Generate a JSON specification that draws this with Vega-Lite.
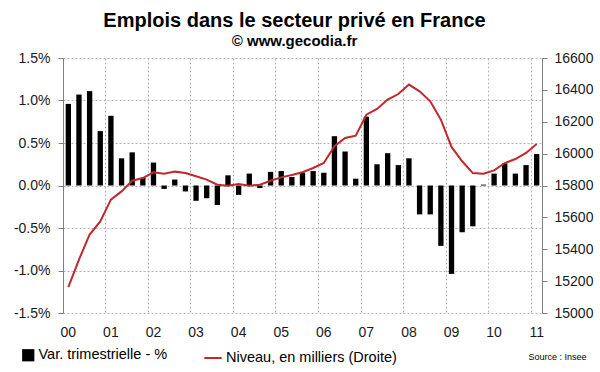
{
  "$schema": "https://vega.github.io/schema/vega-lite/v6.json",
  "autosize": "none",
  "width": 479,
  "height": 255,
  "padding": {"left": 63, "top": 58, "right": 58, "bottom": 59},
  "background": "white",
  "config": {
    "font": "Liberation Sans",
    "view": {"stroke": null},
    "axis": {"labelFont": "Liberation Sans", "labelColor": "#1a1a1a", "labelFontSize": 14}
  },
  "title": {
    "text": "Emplois dans le secteur privé en France",
    "subtitle": "© www.gecodia.fr",
    "font": "Liberation Sans",
    "subtitleFont": "Liberation Sans",
    "fontSize": 20,
    "fontWeight": "bold",
    "subtitleFontSize": 15,
    "subtitleFontWeight": "bold",
    "subtitleColor": "black",
    "color": "black",
    "anchor": "middle",
    "dx": -8,
    "offset": 2,
    "subtitlePadding": 3
  },
  "data": {
    "values": [
      {"q": "2000T1", "v": 0.96, "n": 15163},
      {"q": "2000T2", "v": 1.07, "n": 15335},
      {"q": "2000T3", "v": 1.11, "n": 15492},
      {"q": "2000T4", "v": 0.64, "n": 15575},
      {"q": "2001T1", "v": 0.82, "n": 15711},
      {"q": "2001T2", "v": 0.32, "n": 15763},
      {"q": "2001T3", "v": 0.39, "n": 15830},
      {"q": "2001T4", "v": 0.09, "n": 15847},
      {"q": "2002T1", "v": 0.27, "n": 15883},
      {"q": "2002T2", "v": -0.04, "n": 15874},
      {"q": "2002T3", "v": 0.07, "n": 15887},
      {"q": "2002T4", "v": -0.07, "n": 15878},
      {"q": "2003T1", "v": -0.18, "n": 15858},
      {"q": "2003T2", "v": -0.15, "n": 15837},
      {"q": "2003T3", "v": -0.23, "n": 15805},
      {"q": "2003T4", "v": 0.12, "n": 15799},
      {"q": "2004T1", "v": -0.11, "n": 15809},
      {"q": "2004T2", "v": 0.14, "n": 15799},
      {"q": "2004T3", "v": -0.03, "n": 15805},
      {"q": "2004T4", "v": 0.16, "n": 15830},
      {"q": "2005T1", "v": 0.17, "n": 15851},
      {"q": "2005T2", "v": 0.10, "n": 15866},
      {"q": "2005T3", "v": 0.15, "n": 15883},
      {"q": "2005T4", "v": 0.17, "n": 15910},
      {"q": "2006T1", "v": 0.15, "n": 15941},
      {"q": "2006T2", "v": 0.58, "n": 16046},
      {"q": "2006T3", "v": 0.40, "n": 16098},
      {"q": "2006T4", "v": 0.08, "n": 16113},
      {"q": "2007T1", "v": 0.81, "n": 16244},
      {"q": "2007T2", "v": 0.25, "n": 16280},
      {"q": "2007T3", "v": 0.38, "n": 16339},
      {"q": "2007T4", "v": 0.24, "n": 16374},
      {"q": "2008T1", "v": 0.32, "n": 16433},
      {"q": "2008T2", "v": -0.34, "n": 16391},
      {"q": "2008T3", "v": -0.34, "n": 16328},
      {"q": "2008T4", "v": -0.71, "n": 16213},
      {"q": "2009T1", "v": -1.04, "n": 16042},
      {"q": "2009T2", "v": -0.55, "n": 15952},
      {"q": "2009T3", "v": -0.48, "n": 15878},
      {"q": "2009T4", "v": 0.01, "n": 15874},
      {"q": "2010T1", "v": 0.14, "n": 15895},
      {"q": "2010T2", "v": 0.26, "n": 15941},
      {"q": "2010T3", "v": 0.14, "n": 15966},
      {"q": "2010T4", "v": 0.24, "n": 16004},
      {"q": "2011T1", "v": 0.37, "n": 16060}
    ]
  },
  "encoding": {
    "x": {
      "field": "q",
      "type": "ordinal",
      "sort": null,
      "scale": {"paddingInner": 0, "paddingOuter": 0},
      "axis": {
        "values": ["2000T1","2001T1","2002T1","2003T1","2004T1","2005T1","2006T1","2007T1","2008T1","2009T1","2010T1","2011T1"],
        "labelExpr": "substring(datum.value, 2, 4)",
        "bandPosition": 0,
        "labelAngle": 0,
        "labelPadding": 12,
        "labelFontSize": 14,
        "grid": true,
        "gridDash": [2, 2],
        "gridColor": "#b5b5b5",
        "domain": false,
        "ticks": false,
        "tickSize": 0,
        "title": "Source : Insee",
        "titleFont": "Liberation Sans",
        "titleFontSize": 9,
        "titleFontWeight": "normal",
        "titleColor": "black",
        "titleAlign": "right",
        "titleAnchor": "end",
        "titleBaseline": "alphabetic",
        "titleX": 523,
        "titleY": 46
      }
    }
  },
  "layer": [
    {
      "layer": [
        {
          "mark": {"type": "bar", "width": {"band": 0.5}},
          "encoding": {
            "y": {
              "field": "v",
              "type": "quantitative",
              "scale": {"domain": [-1.5, 1.5], "nice": false},
              "axis": {
                "values": [-1.5, -1, -0.5, 0, 0.5, 1, 1.5],
                "labelExpr": "(datum.value < 0 ? '-' : '') + format(abs(datum.value), '.1f') + '%'",
                "title": null,
                "grid": true,
                "gridDash": [2, 2],
                "gridColor": "#b5b5b5",
                "domainColor": "#808080",
                "tickColor": "#808080",
                "tickSize": 5,
                "labelPadding": 8,
                "labelFontSize": 14
              }
            },
            "fill": {
              "datum": "Var. trimestrielle - %",
              "type": "nominal",
              "scale": {"range": ["black"]},
              "legend": {
                "title": null,
                "orient": "none",
                "legendX": -42,
                "legendY": 290,
                "symbolType": "square",
                "symbolSize": 150,
                "labelFont": "Liberation Sans",
                "labelFontSize": 14.5,
                "labelColor": "black",
                "labelOffset": 3,
                "labelLimit": 300
              }
            }
          }
        },
        {
          "mark": {"type": "rule", "color": "#404040", "strokeWidth": 1},
          "encoding": {"y": {"datum": 0}}
        }
      ]
    },
    {
      "mark": {"type": "line", "color": "#c0282d", "strokeWidth": 2},
      "encoding": {
        "y": {
          "field": "n",
          "type": "quantitative",
          "scale": {"domain": [15000, 16600], "zero": false, "nice": false},
          "axis": {
            "orient": "right",
            "values": [15000, 15200, 15400, 15600, 15800, 16000, 16200, 16400, 16600],
            "format": "d",
            "title": null,
            "grid": false,
            "domainColor": "#808080",
            "tickColor": "#808080",
            "tickSize": 5,
            "labelPadding": 7,
            "labelFontSize": 14
          }
        },
        "stroke": {
          "datum": "Niveau, en milliers (Droite)",
          "type": "nominal",
          "scale": {"range": ["#c0282d"]},
          "legend": {
            "title": null,
            "orient": "none",
            "legendX": 140,
            "legendY": 290,
            "symbolType": "stroke",
            "symbolSize": 300,
            "symbolStrokeWidth": 2,
            "labelFont": "Liberation Sans",
            "labelFontSize": 14.5,
            "labelColor": "black",
            "labelOffset": 3,
            "labelLimit": 300
          }
        }
      }
    }
  ],
  "resolve": {"scale": {"y": "independent"}}
}
